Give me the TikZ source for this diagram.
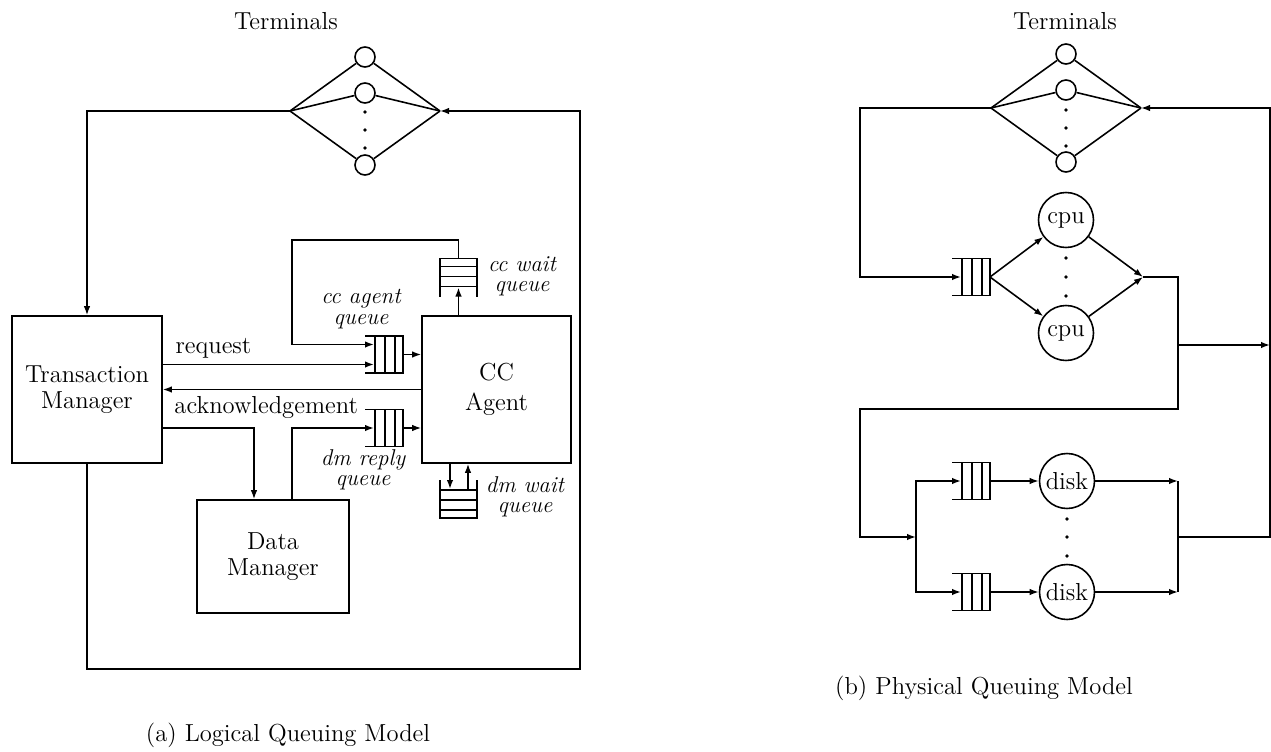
\documentclass[tikz,border=0pt]{standalone}
\usetikzlibrary{arrows.meta}
\begin{document}
\begin{tikzpicture}[
    line width=0.9pt,
    every node/.style={font=\fontsize{14}{15}\selectfont},
    flow/.style={-{Latex[length=1.8mm,width=1.3mm]}},
    box/.style={rectangle, draw, align=center, inner sep=0pt},
    term/.style={circle, draw, minimum size=0.4cm, inner sep=0pt},
    server/.style={circle, draw, minimum size=1.1cm, inner sep=0pt},
    dot/.style={circle, fill, minimum size=2.2pt, inner sep=0pt},
    qlabel/.style={align=center, font=\fontsize{13}{11.5}\selectfont\itshape},
    qbox/.pic={
        \draw (-0.38,0.37) -- (0.38,0.37) -- (0.38,-0.37) -- (-0.38,-0.37);
        \foreach \d in {-0.18,0.02,0.22} \draw (\d,0.37) -- (\d,-0.37);
        \coordinate (-in) at (-0.2,0);
        \coordinate (-out) at (0.38,0);
    },
]
\useasboundingbox (0,0) rectangle (25.42,-15.04);

% (a) logical model
\node (terma) at (5.72,-0.43) {Terminals};
\node[term] (t1) at (7.30,-1.14) {};
\node[term] (t2) at (7.30,-1.86) {};
\node[term] (t3) at (7.30,-3.30) {};
\node[dot] (ta) at (7.30,-2.24) {};
\node[dot] (tb) at (7.30,-2.60) {};
\node[dot] (tc) at (7.30,-2.96) {};
\coordinate (lf1) at (5.80,-2.22);
\coordinate (rf1) at (8.80,-2.22);
\node[box, minimum width=3cm, minimum height=2.94cm] (tm) at (1.74,-7.79) {Transaction\\Manager};
\node[box, minimum width=2.98cm, minimum height=2.94cm] (cc) at (9.93,-7.79) {CC\\[2pt]Agent};
\node[box, minimum width=3.04cm, minimum height=2.26cm] (dm) at (5.46,-11.13) {Data\\Manager};
\pic (ccq) at (7.68,-7.09) {qbox};
\pic (dmq) at (7.68,-8.56) {qbox};
\pic[rotate=90] (cwq) at (9.17,-5.55) {qbox};
\pic[rotate=-90] (dwq) at (9.17,-9.98) {qbox};
\node[qlabel] (ccql) at (7.22,-6.18) {cc agent\\queue};
\node[qlabel] (cwql) at (10.44,-5.52) {cc wait\\queue};
\node[qlabel] (dmql) at (7.26,-9.40) {dm reply\\queue};
\node[qlabel] (dwql) at (10.50,-9.94) {dm wait\\queue};
\coordinate (ccloop) at (5.84,-4.80);
\coordinate (abr) at (11.60,-13.38);

\foreach \t in {t1,t2,t3} \draw (lf1) -- (\t) -- (rf1);
\draw[flow] (lf1) -| (tm.north);
\draw[flow] (tm.south) |- (abr) |- (rf1);
\draw[flow] ([yshift=-0.2cm]ccq-in -| tm.east) -- node[above, pos=0.24] {request} ([yshift=-0.2cm]ccq-in);
\draw[flow] (cc.west) -- node[below, pos=0.6] {acknowledgement} (cc.west -| tm.east);
\draw[flow] (ccq-out) -- (ccq-out -| cc.west);
\draw[flow] (cc.north -| cwq-in) -- (cwq-in);
\draw[flow] (cwq-out) |- (ccloop) |- ([yshift=0.2cm]ccq-in);
\draw[flow] (dmq-in -| tm.east) -| ([xshift=-0.38cm]dm.north);
\draw[flow] ([xshift=0.38cm]dm.north) |- (dmq-in);
\draw[flow] (dmq-out) -- (dmq-out -| cc.west);
\draw[flow] ([xshift=-0.17cm]dwq-in |- cc.south) -- ([xshift=-0.17cm]dwq-in);
\draw[flow] ([xshift=0.19cm]dwq-in) -- ([xshift=0.19cm]dwq-in |- cc.south);
\node (capa) at (5.76,-14.70) {(a) Logical Queuing Model};

% (b) physical model
\node (termb) at (21.30,-0.42) {Terminals};
\node[term] (u1) at (21.32,-1.08) {};
\node[term] (u2) at (21.32,-1.80) {};
\node[term] (u3) at (21.32,-3.24) {};
\node[dot] (ua) at (21.32,-2.20) {};
\node[dot] (ub) at (21.32,-2.56) {};
\node[dot] (uc) at (21.32,-2.92) {};
\coordinate (lf2) at (19.82,-2.16);
\coordinate (rf2) at (22.82,-2.16);
\coordinate (btl) at (17.20,-2.16);
\pic (cpq) at (19.42,-5.54) {qbox};
\node[server] (cpu1) at (21.32,-4.40) {cpu};
\node[server] (cpu2) at (21.32,-6.66) {cpu};
\node[dot] (ca) at (21.32,-5.16) {};
\node[dot] (cb) at (21.32,-5.54) {};
\node[dot] (cx) at (21.32,-5.92) {};
\coordinate (cj) at (22.86,-5.54);
\coordinate (bcpu) at (23.56,-8.18);
\coordinate (bout) at (23.56,-6.90);
\coordinate (bleft) at (17.20,-8.18);
\coordinate (dsplit) at (18.32,-10.74);
\pic (dq1) at (19.42,-9.62) {qbox};
\pic (dq2) at (19.42,-11.84) {qbox};
\node[server] (disk1) at (21.34,-9.62) {disk};
\node[server] (disk2) at (21.34,-11.84) {disk};
\node[dot] (da) at (21.34,-10.38) {};
\node[dot] (db) at (21.34,-10.74) {};
\node[dot] (dc) at (21.34,-11.12) {};
\coordinate (dj) at (23.56,-10.74);
\coordinate (bright) at (25.40,-10.74);

\foreach \t in {u1,u2,u3} \draw (lf2) -- (\t) -- (rf2);
\draw[flow] (lf2) -- (btl) |- (cpq-in);
\draw[flow] (cpq-out) -- (cpu1);
\draw[flow] (cpq-out) -- (cpu2);
\draw[flow] (cpu1) -- (cj);
\draw[flow] (cpu2) -- (cj);
\draw[flow] (cj) -| (bcpu) -- (bleft) |- (dsplit);
\draw[flow] (bout) -- (bout -| bright);
\draw[flow] (dsplit) |- (dq1-in);
\draw[flow] (dsplit) |- (dq2-in);
\draw[flow] (dq1-out) -- (disk1);
\draw[flow] (dq2-out) -- (disk2);
\draw[flow] (disk1) -- (disk1 -| dj);
\draw[flow] (disk2) -- (disk2 -| dj);
\draw (dj |- disk1) -- (dj |- disk2);
\draw[flow] (dj) -- (bright) |- (rf2);
\node (capb) at (19.68,-13.76) {(b) Physical Queuing Model};
\end{tikzpicture}
\end{document}
